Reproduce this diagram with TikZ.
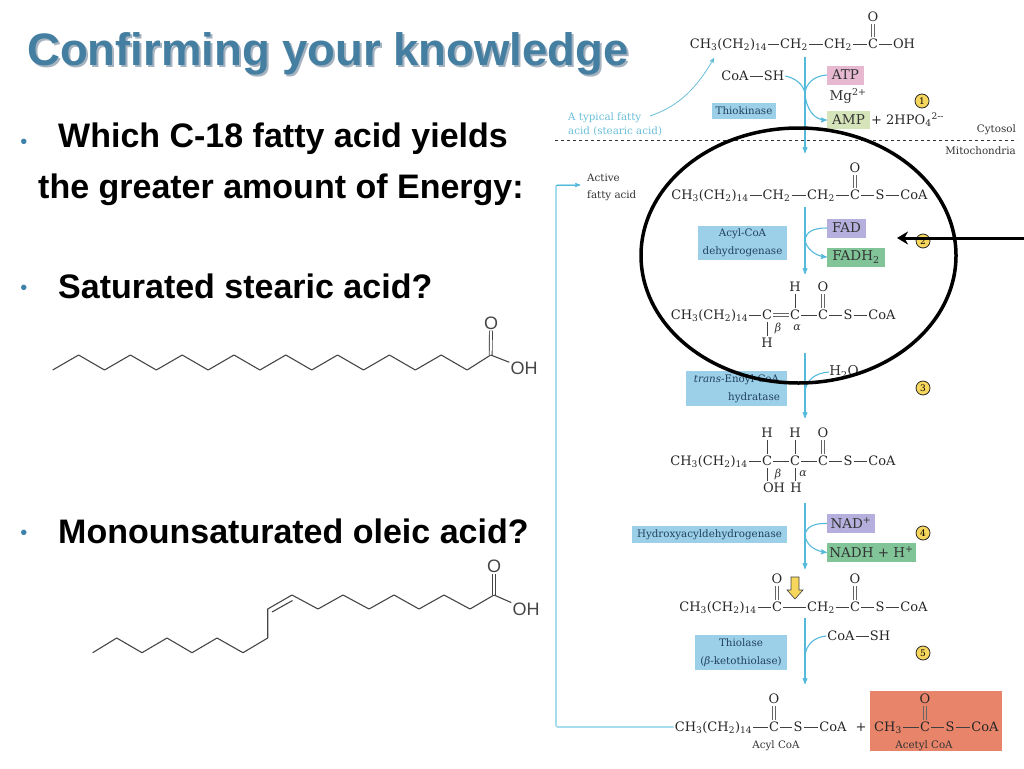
\documentclass[tikz,border=0pt]{standalone}
\usepackage{fontspec}
\setmainfont{Liberation Sans}
\newfontfamily\chemfont{DejaVu Serif}
\usepackage{xcolor}
\usetikzlibrary{arrows,arrows.meta,shapes.geometric}
\definecolor{titleblue}{RGB}{68,126,160}
\definecolor{titleshade}{RGB}{165,178,192}
\definecolor{bulletblue}{RGB}{60,130,170}
\definecolor{flowblue}{RGB}{85,185,220}
\definecolor{loopblue}{RGB}{165,220,238}
\definecolor{typicalblue}{RGB}{105,190,215}
\definecolor{enzblue}{RGB}{155,208,232}
\definecolor{enzink}{RGB}{35,65,95}
\definecolor{atppink}{RGB}{230,185,208}
\definecolor{amplime}{RGB}{214,228,186}
\definecolor{fadpurple}{RGB}{180,175,220}
\definecolor{nadgreen}{RGB}{128,196,152}
\definecolor{acetylred}{RGB}{232,132,106}
\definecolor{coinyellow}{RGB}{246,214,92}
\definecolor{skelgray}{RGB}{70,70,70}
\newcommand{\chsub}[1]{\textsubscript{#1}}
\newcommand{\chsup}[1]{\textsuperscript{#1}}
\newcommand{\chainCH}{CH\chsub{3}(CH\chsub{2})\chsub{14}}
\newcommand{\updbl}[2]{\draw [dblbond] ([xshift=-1.3pt]#1.north) -- ([xshift=-1.3pt]#2.south); \draw [dblbond] ([xshift=1.3pt]#1.north) -- ([xshift=1.3pt]#2.south);}

\begin{document}
\begin{tikzpicture}[x=1pt,y=-1pt,>=stealth',
    atom/.style={inner sep=1pt,text height=10.5pt,text depth=2pt,text=black!85,font=\chemfont\fontsize{13}{15}\selectfont},
    small/.style={inner sep=0pt,text=black!80,font=\chemfont\fontsize{10.3}{12}\selectfont},
    greek/.style={inner sep=0pt,text=black!80,font=\chemfont\itshape\fontsize{11}{12}\selectfont},
    bond/.style={-,line width=0.8pt,black!75},
    dblbond/.style={-,line width=0.8pt,black!60},
    flow/.style={->,line width=1.1pt,flowblue},
    enz/.style={fill=enzblue,text=enzink,inner sep=0pt,align=center,font=\chemfont\fontsize{10.3}{18}\selectfont},
    cof/.style={inner sep=0pt,text=black!80,font=\chemfont\fontsize{13.5}{15}\selectfont},
    coin/.style={circle,draw=black!85,fill=coinyellow,line width=0.8pt,minimum size=14pt,inner sep=0pt,font=\chemfont\fontsize{9}{10}\selectfont},
    bullet/.style={text=bulletblue,inner sep=0pt,font=\fontsize{20}{22}\selectfont},
    ask/.style={anchor=west,inner sep=0pt,font=\bfseries\fontsize{34}{36}\selectfont},
    skel/.style={line width=1.1pt,skelgray,line join=round},
    skeldbl/.style={-,draw=skelgray,line width=0.9pt,double=white,double distance=2pt},
    skeltext/.style={text=skelgray,inner sep=1pt,font=\fontsize{18}{20}\selectfont}]

    \useasboundingbox (0,0) rectangle (1024,768);

    % The title
    \node [inner sep=0pt,text=titleshade,font=\bfseries\fontsize{45.5}{48}\selectfont] at (330,56) (titleback) {Confirming your knowledge};
    \node [inner sep=0pt,text=titleblue,font=\bfseries\fontsize{45.5}{48}\selectfont] at (328,54) (title) {Confirming your knowledge};

    % The questions
    \node [bullet] at (24,144) (b1) {•};
    \node [ask] at (58,139) (q1) {Which C-18 fatty acid yields};
    \node [ask] at (38,190) (q1b) {the greater amount of Energy:};
    \node [bullet] at (24,290) (b2) {•};
    \node [ask] at (58,286) (q2) {Saturated stearic acid?};
    \node [bullet] at (24,535) (b3) {•};
    \node [ask] at (58,531) (q3) {Monounsaturated oleic acid?};

    % Stearic acid
    \coordinate (sc) at (490.7,355);
    \node [skeltext] at (491,323) (so) {O};
    \node [skeltext] at (524,368) (soh) {OH};
    \draw [skel] (52.7,370) \foreach \i in {1,...,16} { -- ({52.7+25.9*\i},{362.5+7.5*cos(180*\i)}) } -- (sc);
    \draw [skeldbl] (sc) -- (so);
    \draw [skel] (sc) -- (soh);

    % Oleic acid
    \coordinate (oc) at (494,595);
    \node [skeltext] at (494,566) (oo) {O};
    \node [skeltext] at (526,609) (ooh) {OH};
    \draw [skel] (92.7,652.7) -- (116.7,638) -- (142,652.7) -- (167,638) -- (192,652.7) -- (217,638)
      -- (243,652.7) -- (267.7,638) -- (267.7,609) -- (292,595) -- (318,609) -- (343,595) -- (369,609)
      -- (394,595) -- (419,609) -- (444,595) -- (470,609) -- (oc);
    \draw [skel] (272,612) -- (292.5,600.5);
    \draw [skeldbl] (oc) -- (oo);
    \draw [skel] (oc) -- (ooh);

    % Membrane
    \coordinate (memL) at (555,140);
    \coordinate (memR) at (1017,140);
    \draw [dashed,line width=0.9pt,black!80] (memL) -- (memR);
    \node [small,anchor=east] at (1016,130) (cytosol) {Cytosol};
    \node [small,anchor=east] at (1016,151) (mito) {Mitochondria};

    % Stearic acid row
    \node [atom] at (728.5,44) (aR) {\chainCH};
    \node [atom] at (794,44) (a1) {CH\chsub{2}};
    \node [atom] at (838,44) (a2) {CH\chsub{2}};
    \node [atom] at (873,44) (a3) {C};
    \node [atom] at (904,44) (aOH) {OH};
    \node [atom] at (873,17) (aO) {O};
    \path (aR) edge[bond] (a1) (a1) edge[bond] (a2) (a2) edge[bond] (a3) (a3) edge[bond] (aOH);
    \updbl{a3}{aO}

    \node [small,text=typicalblue,align=left,anchor=west,font=\chemfont\fontsize{10.3}{14}\selectfont] at (568,124) (typical) {A typical fatty\\acid (stearic acid)};
    \coordinate (typR) at (650,116);
    \coordinate (typT) at (714,58);
    \draw [->,line width=0.8pt,typicalblue] (typR) .. controls (680,106) and (698,86) .. (typT);

    \node [enz,minimum width=64pt,minimum height=16pt] at (744,111) (e1) {Thiokinase};
    \node [atom] at (735,76) (coa1) {CoA};
    \node [atom] at (774,76) (sh1) {SH};
    \path (coa1) edge[bond] (sh1);
    \node [cof,fill=atppink,minimum width=37pt,minimum height=19pt] at (845.5,75) (atp) {ATP};
    \node [cof] at (848,96) (mg) {Mg\chsup{2+}};
    \node [cof,fill=amplime,minimum width=43pt,minimum height=18pt] at (848.5,120) (amp) {AMP};
    \node [atom,anchor=west,inner sep=0pt] at (871,120) (hpo) {+ 2HPO\chsub{4}\chsup{2--}};
    \node [coin] at (922,101) (c1) {1};

    \coordinate (s1) at (805,57);
    \coordinate (t1) at (805,153);
    \coordinate (j1) at (805,93);
    \draw [flow] (s1) -- (t1);
    \draw [flow,-] (sh1.east) .. controls (795,78) and (803,84) .. (j1);
    \draw [flow,-] (atp.west) .. controls (813,76) and (806,84) .. (j1);
    \draw [flow] (j1) .. controls (806,110) and (815,120) .. (amp.west);

    % Active fatty acid row
    \node [atom] at (710,195) (bR) {\chainCH};
    \node [atom] at (776.5,195) (b1) {CH\chsub{2}};
    \node [atom] at (821,195) (b2) {CH\chsub{2}};
    \node [atom] at (855,195) (b3) {C};
    \node [atom] at (880,195) (bS) {S};
    \node [atom] at (914,195) (bCoA) {CoA};
    \node [atom] at (855,168) (bO) {O};
    \path (bR) edge[bond] (b1) (b1) edge[bond] (b2) (b2) edge[bond] (b3) (b3) edge[bond] (bS) (bS) edge[bond] (bCoA);
    \updbl{b3}{bO}

    \node [small,align=left,anchor=west,font=\chemfont\fontsize{10.3}{17}\selectfont] at (587,187) (active) {Active\\fatty acid};

    \node [enz,minimum width=89pt,minimum height=34pt] at (742.5,243) (e2) {Acyl-CoA\\dehydrogenase};
    \node [cof,fill=fadpurple,minimum width=39pt,minimum height=19pt] at (846.5,228) (fad) {FAD};
    \node [cof,fill=nadgreen,minimum width=58pt,minimum height=19pt] at (856,257) (fadh) {FADH\chsub{2}};
    \node [coin] at (923,241) (c2) {2};

    \coordinate (s2) at (805,207);
    \coordinate (t2) at (805,274);
    \coordinate (j2) at (805,240);
    \draw [flow] (s2) -- (t2);
    \draw [flow,-] (fad.west) .. controls (813,228) and (806,232) .. (j2);
    \draw [flow] (j2) .. controls (806,248) and (815,256) .. (fadh.west);

    % Enoyl row
    \node [atom] at (709.5,315) (cR) {\chainCH};
    \node [atom] at (767,315) (c1) {C};
    \node [atom] at (795,315) (c2a) {C};
    \node [atom] at (823,315) (c3) {C};
    \node [atom] at (848,315) (cS) {S};
    \node [atom] at (882,315) (cCoA) {CoA};
    \node [atom] at (795,287) (cH) {H};
    \node [atom] at (823,287) (cO) {O};
    \node [atom] at (767,343) (cHb) {H};
    \node [greek] at (778,328) (cbeta) {β};
    \node [greek] at (797,328) (calpha) {α};
    \path (cR) edge[bond] (c1) (c2a) edge[bond] (c3) (c3) edge[bond] (cS) (cS) edge[bond] (cCoA);
    \path (c2a) edge[bond] (cH) (c1) edge[bond] (cHb);
    \draw [dblbond] ([yshift=-1.5pt]c1.east) -- ([yshift=-1.5pt]c2a.west);
    \draw [dblbond] ([yshift=1.5pt]c1.east) -- ([yshift=1.5pt]c2a.west);
    \updbl{c3}{cO}

    \node [enz,minimum width=101pt,minimum height=35pt] at (736.5,388.5) (e3) {{\itshape trans}-Enoyl-CoA\\\hspace*{35pt}hydratase};
    \node [cof] at (844,372) (h2o) {H\chsub{2}O};
    \node [coin] at (923,388) (c3n) {3};

    \coordinate (s3) at (805,353);
    \coordinate (t3) at (805,418);
    \coordinate (j3) at (805,392);
    \draw [flow] (s3) -- (t3);
    \draw [flow,-] (h2o.west) .. controls (815,373) and (806,380) .. (j3);

    % Hydroxyacyl row
    \node [atom] at (709,461) (dR) {\chainCH};
    \node [atom] at (767,461) (d1) {C};
    \node [atom] at (795,461) (d2) {C};
    \node [atom] at (823,461) (d3) {C};
    \node [atom] at (848,461) (dS) {S};
    \node [atom] at (882,461) (dCoA) {CoA};
    \node [atom] at (767,433) (dH1) {H};
    \node [atom] at (795,433) (dH2) {H};
    \node [atom] at (823,433) (dO) {O};
    \node [atom] at (774,488) (dOH) {OH};
    \node [atom] at (796,488) (dHb) {H};
    \node [greek] at (778,474) (dbeta) {β};
    \node [greek] at (803,474) (dalpha) {α};
    \path (dR) edge[bond] (d1) (d1) edge[bond] (d2) (d2) edge[bond] (d3) (d3) edge[bond] (dS) (dS) edge[bond] (dCoA);
    \path (d1) edge[bond] (dH1) (d2) edge[bond] (dH2);
    \updbl{d3}{dO}
    \draw [bond] (d1) -- (d1 |- dOH.north);
    \draw [bond] (d2) -- (d2 |- dHb.north);

    \node [enz,minimum width=155pt,minimum height=17pt] at (709.5,534.5) (e4) {Hydroxyacyldehydrogenase};
    \node [cof,fill=fadpurple,minimum width=48pt,minimum height=19pt] at (851,523.5) (nad) {NAD\chsup{+}};
    \node [cof,fill=nadgreen,minimum width=89pt,minimum height=19pt] at (871.5,552.5) (nadh) {NADH + H\chsup{+}};
    \node [coin] at (923,533) (c4) {4};

    \coordinate (s4) at (805,503);
    \coordinate (t4) at (805,569);
    \coordinate (j4) at (805,535);
    \draw [flow] (s4) -- (t4);
    \draw [flow,-] (nad.west) .. controls (814,523) and (806,527) .. (j4);
    \draw [flow] (j4) .. controls (806,545) and (815,551) .. (nadh.west);

    % Ketoacyl row
    \node [atom] at (718,607) (eR) {\chainCH};
    \node [atom] at (777,607) (e1x) {C};
    \node [atom] at (821,607) (e2x) {CH\chsub{2}};
    \node [atom] at (855,607) (e3x) {C};
    \node [atom] at (880,607) (eS) {S};
    \node [atom] at (914,607) (eCoA) {CoA};
    \node [atom] at (777,579) (eO1) {O};
    \node [atom] at (855,579) (eO2) {O};
    \path (eR) edge[bond] (e1x) (e1x) edge[bond] (e2x) (e2x) edge[bond] (e3x) (e3x) edge[bond] (eS) (eS) edge[bond] (eCoA);
    \updbl{e1x}{eO1}
    \updbl{e3x}{eO2}

    % Cleavage site
    \draw [fill=coinyellow,draw=black!75,line width=0.6pt] (791,577) -- (799,577) -- (799,590) -- (803,590) -- (795,599) -- (787,590) -- (791,590) -- cycle;

    \node [enz,minimum width=92pt,minimum height=35pt] at (741,652.5) (e5) {Thiolase\\(\textit{β}-ketothiolase)};
    \node [atom] at (841,636) (coa2) {CoA};
    \node [atom] at (880,636) (sh2) {SH};
    \path (coa2) edge[bond] (sh2);
    \node [coin] at (923,653) (c5) {5};

    \coordinate (s5) at (805,618);
    \coordinate (t5) at (805,684);
    \coordinate (j5) at (805,656);
    \draw [flow] (s5) -- (t5);
    \draw [flow,-] (coa2.west) .. controls (815,637) and (806,644) .. (j5);

    % Product row
    \node [fill=acetylred,minimum width=132pt,minimum height=60pt,inner sep=0pt] at (936,721) (acetylbox) {};
    \node [atom] at (713.5,727) (fR) {\chainCH};
    \node [atom] at (774,727) (f1) {C};
    \node [atom] at (798,727) (fS) {S};
    \node [atom] at (833,727) (fCoA) {CoA};
    \node [atom] at (774,699) (fO) {O};
    \node [atom] at (861,727) (fplus) {+};
    \node [atom] at (888,727) (gR) {CH\chsub{3}};
    \node [atom] at (925,727) (g1) {C};
    \node [atom] at (950,727) (gS) {S};
    \node [atom] at (985,727) (gCoA) {CoA};
    \node [atom] at (925,699) (gO) {O};
    \node [small] at (776,746) (acyl) {Acyl CoA};
    \node [small] at (924,746) (acetyl) {Acetyl CoA};
    \path (fR) edge[bond] (f1) (f1) edge[bond] (fS) (fS) edge[bond] (fCoA);
    \path (gR) edge[bond] (g1) (g1) edge[bond] (gS) (gS) edge[bond] (gCoA);
    \updbl{f1}{fO}
    \updbl{g1}{gO}

    % Recycling loop
    \coordinate (loopA) at (556,727);
    \coordinate (loopB) at (556,185);
    \coordinate (loopC) at (580,185);
    \draw [line width=1.8pt,loopblue,rounded corners=2pt] (fR.west) -- (loopA) -- (loopB) -- (loopC);
    \draw [->,line width=0.8pt,flowblue] (loopB) -- (loopC);

    % The ring and the pointer
    \node [draw=black,line width=3.5pt,ellipse,inner sep=0pt,minimum width=315pt,minimum height=255pt] at (798.5,255.5) (ring) {};
    \coordinate (ptrS) at (1024,238);
    \coordinate (ptrT) at (897,238);
    \draw [-{Stealth[length=11pt,width=13pt]},line width=3pt,black] (ptrS) -- (ptrT);

\end{tikzpicture}
\end{document}
